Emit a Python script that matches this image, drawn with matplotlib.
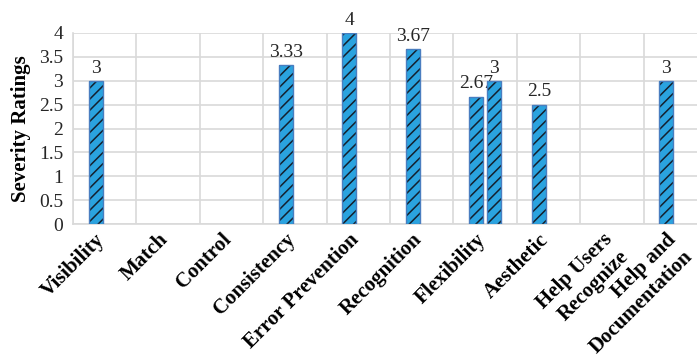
import numpy as np
import matplotlib
matplotlib.use("Agg")
import matplotlib.pyplot as plt

# Heuristic categories and severity ratings
categories = ["Visibility", "Match", "Control", "Consistency", "Error Prevention",
              "Recognition", "Flexibility", "Aesthetic", "Help Users\nRecognize",
              "Help and\nDocumentation"]
series_a = [3, np.nan, np.nan, 3.33, 4, 3.67, 2.67, 2.5, np.nan, 3]
series_b = [np.nan, np.nan, np.nan, np.nan, np.nan, np.nan, 3, np.nan, np.nan, np.nan]
y_ticks = [0, 0.5, 1, 1.5, 2, 2.5, 3, 3.5, 4]

plt.rcParams["hatch.linewidth"] = 1.1
serif = "Liberation Serif"
text_color = "#262626"

fig = plt.figure(figsize=(6.97, 3.58), dpi=100)
ax = fig.add_axes([0.1047, 0.374, 0.9096, 0.534])

x = np.arange(len(categories))
width = 0.22
offset = 0.142
fill = "#2AA3DF"
edge = "#4A7EC0"
hatch_color = "#14202e"

for vals, dx in ((series_a, -offset), (series_b, offset)):
    vals = np.array(vals, dtype=float)
    mask = ~np.isnan(vals)
    # filled, hatched body
    ax.bar(x[mask] + dx, vals[mask], width, color=fill, edgecolor=hatch_color,
           linewidth=0, hatch="///", zorder=3)
    # blue outline on top
    bars = ax.bar(x[mask] + dx, vals[mask], width, fill=False, edgecolor=edge,
                  linewidth=1.0, zorder=4)
    for b, v in zip(bars, vals[mask]):
        ax.annotate(f"{v:g}", (b.get_x() + b.get_width() / 2, v),
                    xytext=(0, 3), textcoords="offset points",
                    ha="center", va="bottom", fontsize=14,
                    family=serif, color=text_color)

ax.set_xlim(-0.5, len(categories) - 0.5)
ax.set_ylim(0, 4)
ax.set_yticks(y_ticks)
ax.set_yticklabels([f"{t:g}" for t in y_ticks], family=serif,
                   fontsize=14, color=text_color)
ax.set_xticks(x)
ax.set_xticklabels([])
# rotated category names under each slot
for xi, name in zip(x, categories):
    ax.annotate(name, xy=(xi, 0), xycoords=("data", "axes fraction"),
                xytext=(-7, -4), textcoords="offset points",
                rotation=45, ha="right", va="top", rotation_mode="anchor",
                fontsize=15, fontweight="bold", family=serif,
                multialignment="right", linespacing=1.25, color="black",
                annotation_clip=False)
ax.set_xticks(np.arange(-0.5, len(categories)), minor=True)
ax.tick_params(axis="both", which="both", length=0)
ax.tick_params(axis="y", pad=7)

ax.grid(axis="y", which="major", color="#D9D9D9", linewidth=1.2, zorder=0)
ax.grid(axis="x", which="minor", color="#D9D9D9", linewidth=1.2, zorder=0)
for side in ("top", "right"):
    ax.spines[side].set_visible(False)
for side in ("left", "bottom"):
    ax.spines[side].set_color("#D9D9D9")
    ax.spines[side].set_linewidth(1.2)

ax.set_ylabel("Severity Ratings", fontsize=15, fontweight="bold",
              family=serif, labelpad=6)

fig.savefig("out.png", dpi=100)
